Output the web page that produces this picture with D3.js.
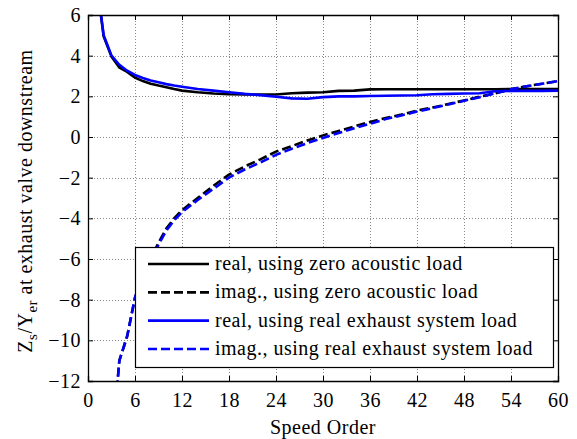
<!DOCTYPE html>
<html>
<head>
<meta charset="utf-8">
<script src="https://cdn.jsdelivr.net/npm/d3@7"></script>
<style>
  html, body { margin: 0; padding: 0; background: #fff; }
  svg { display: block; }
</style>
</head>
<body>
<svg id="chart" width="577" height="439"></svg>
<script>
// Speed orders at which the impedance ratio was evaluated
const orders = [1,2,3,4,5,6,7,8,9,10,11,12,14,16,18,20,22,24,26,28,30,32,34,36,38,40,42,44,46,48,50,52,54,56,58,60];

// Real part, zero acoustic load
const realZero = [7.9,4.95,3.95,3.42,3.2,2.92,2.75,2.62,2.53,2.45,2.36,2.28,2.2,2.14,2.1,2.09,2.09,2.09,2.15,2.18,2.2,2.27,2.28,2.34,2.35,2.35,2.35,2.35,2.35,2.35,2.35,2.35,2.36,2.36,2.36,2.36];
// Imaginary part, zero acoustic load
const imagZero = [-45,-24,-15.5,-11.0,-9.8,-7.9,-6.8,-6.0,-5.2,-4.5,-4.0,-3.6,-3.0,-2.4,-1.85,-1.45,-1.1,-0.72,-0.45,-0.17,0.08,0.3,0.52,0.74,0.93,1.1,1.3,1.45,1.62,1.8,1.98,2.15,2.35,2.5,2.62,2.75];
// Real part, real exhaust system load
const realExh = [8.0,5.0,4.0,3.55,3.26,3.05,2.9,2.78,2.69,2.6,2.53,2.47,2.36,2.28,2.2,2.12,2.06,1.98,1.9,1.88,1.96,2.0,2.0,2.02,2.03,2.04,2.05,2.1,2.12,2.14,2.15,2.25,2.26,2.27,2.27,2.28];
// Imaginary part, real exhaust system load
const imagExh = [-45,-24,-15.5,-11.0,-9.8,-7.9,-6.8,-6.05,-5.3,-4.6,-4.1,-3.7,-3.1,-2.55,-2.0,-1.6,-1.25,-0.88,-0.58,-0.3,-0.05,0.2,0.43,0.65,0.88,1.06,1.25,1.42,1.6,1.78,1.96,2.15,2.35,2.5,2.62,2.75];

const xTicks = [0,6,12,18,24,30,36,42,48,54,60];
const yTicks = [-12,-10,-8,-6,-4,-2,0,2,4,6];

const seriesNames = [
  "real, using zero acoustic load",
  "imag., using zero acoustic load",
  "real, using real exhaust system load",
  "imag., using real exhaust system load"
];
const seriesValues = [realZero, imagZero, realExh, imagExh];
const seriesColors = ["#000000", "#000000", "#0000ff", "#0000ff"];
const seriesDash = [null, "9,4", null, "9,4"];

const FONT = "Liberation Serif";
const FS = 20;
const LS = "0.5px";

const svg = d3.select("#chart");
const plot = { left: 88, right: 558, top: 15, bottom: 381 };

const x = d3.scaleLinear().domain([0, 60]).range([plot.left, plot.right]);
const y = d3.scaleLinear().domain([-12, 6]).range([plot.bottom, plot.top]);

// clip region for the data lines
svg.append("defs").append("clipPath").attr("id", "plotClip")
  .append("rect")
  .attr("x", plot.left).attr("y", plot.top)
  .attr("width", plot.right - plot.left).attr("height", plot.bottom - plot.top);

// dotted grid
const grid = svg.append("g").attr("stroke", "#8a8a8a").attr("stroke-width", 1).attr("stroke-dasharray", "1,2");
grid.selectAll("line.gx").data(xTicks.slice(1, -1)).enter().append("line")
  .attr("x1", d => x(d) + 0.5).attr("x2", d => x(d) + 0.5)
  .attr("y1", plot.top).attr("y2", plot.bottom);
grid.selectAll("line.gy").data(yTicks.slice(1, -1)).enter().append("line")
  .attr("y1", d => Math.round(y(d)) + 0.5).attr("y2", d => Math.round(y(d)) + 0.5)
  .attr("x1", plot.left).attr("x2", plot.right);

// data lines
const line = d3.line()
  .x((d, i) => x(orders[i]))
  .y(d => y(d));
const lines = svg.append("g").attr("clip-path", "url(#plotClip)");
// zero-load lines first, exhaust-load lines on top
[0, 1, 2, 3].forEach(k => {
  lines.append("path")
    .datum(seriesValues[k])
    .attr("fill", "none")
    .attr("stroke", seriesColors[k])
    .attr("stroke-width", 2.6)
    .attr("stroke-dasharray", seriesDash[k])
    .attr("d", line);
});

// axes: ticks on all four sides pointing inward
const tickLen = 5;
const xAxisB = d3.axisBottom(x).tickValues(xTicks).tickSize(-tickLen).tickPadding(12);
const xAxisT = d3.axisTop(x).tickValues(xTicks).tickSize(-tickLen).tickFormat("");
const yAxisL = d3.axisLeft(y).tickValues(yTicks).tickSize(-tickLen).tickPadding(7);
const yAxisR = d3.axisRight(y).tickValues(yTicks).tickSize(-tickLen).tickFormat("");

function styleAxis(g) {
  g.attr("font-family", FONT).attr("font-size", FS);
  g.select(".domain").attr("stroke", "#000").attr("stroke-width", 1.3);
  g.selectAll(".tick line").attr("stroke", "#000").attr("stroke-width", 1);
  g.selectAll(".tick text").attr("fill", "#000").style("letter-spacing", LS);
}
svg.append("g").attr("transform", `translate(0,${plot.bottom})`).call(xAxisB).call(styleAxis);
svg.append("g").attr("transform", `translate(0,${plot.top})`).call(xAxisT).call(styleAxis);
svg.append("g").attr("transform", `translate(${plot.left},0)`).call(yAxisL).call(styleAxis);
svg.append("g").attr("transform", `translate(${plot.right},0)`).call(yAxisR).call(styleAxis);

// axis titles
svg.append("text")
  .attr("x", 323).attr("y", 434)
  .attr("text-anchor", "middle")
  .attr("font-family", FONT)
  .attr("font-size", FS)
  .style("letter-spacing", LS)
  .text("Speed Order");

const yt = svg.append("text")
  .attr("transform", `translate(32,201) rotate(-90)`)
  .attr("text-anchor", "middle")
  .attr("font-family", FONT)
  .attr("font-size", FS)
  .style("letter-spacing", LS);
yt.append("tspan").text("Z");
yt.append("tspan").attr("dy", 5).attr("font-size", 15).text("s");
yt.append("tspan").attr("dy", -5).text("/Y");
yt.append("tspan").attr("dy", 5).attr("font-size", 15).text("er");
yt.append("tspan").attr("dy", -5).text(" at exhaust valve downstream");

// legend
const leg = { x: 135, y: 247, w: 418, h: 120 };
const lg = svg.append("g");
lg.append("rect")
  .attr("x", leg.x + 0.5).attr("y", leg.y + 0.5)
  .attr("width", leg.w).attr("height", leg.h)
  .attr("fill", "#fff").attr("stroke", "#000").attr("stroke-width", 1.2);
const rowY = d3.scaleLinear().domain([0, 3]).range([leg.y + 23, leg.y + 108]);
seriesNames.forEach((name, k) => {
  lg.append("line")
    .attr("x1", leg.x + 13).attr("x2", leg.x + 74)
    .attr("y1", rowY(k) - 6).attr("y2", rowY(k) - 6)
    .attr("stroke", seriesColors[k]).attr("stroke-width", 2.6)
    .attr("stroke-dasharray", seriesDash[k]);
  lg.append("text")
    .attr("x", leg.x + 80).attr("y", rowY(k))
    .attr("font-family", FONT)
    .attr("font-size", FS)
    .style("letter-spacing", LS)
    .text(name);
});
</script>
</body>
</html>
